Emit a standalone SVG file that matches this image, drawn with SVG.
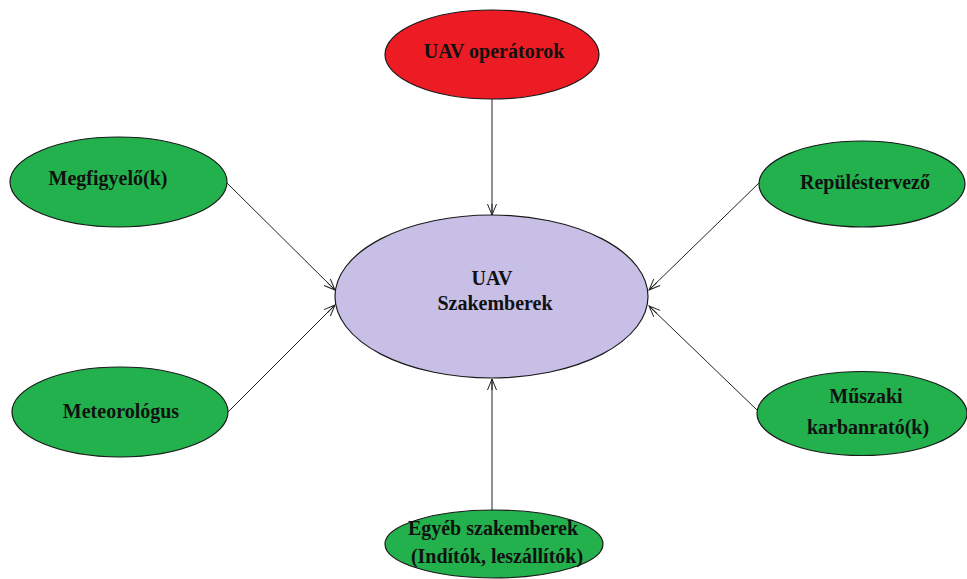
<svg xmlns="http://www.w3.org/2000/svg" width="967" height="579" viewBox="0 0 967 579">
  <style>
    .node { stroke: #1a1a1a; stroke-width: 1.2; }
    .red { fill: #ED1C24; }
    .green { fill: #22B14C; }
    .lav { fill: #C8BFE7; }
    .lbl { font-family: "Liberation Serif", "Times New Roman", serif; font-weight: bold; font-size: 20px; fill: #111; text-anchor: middle; }
    .edge { stroke: #222; stroke-width: 1; fill: none; marker-end: url(#arrow); }
  </style>
  <defs>
    <marker id="arrow" markerUnits="userSpaceOnUse" markerWidth="14" markerHeight="12" viewBox="-12 -6 14 12" refX="0" refY="0" orient="auto">
      <path d="M-11,-4.5 L0,0 L-11,4.5 M-11,0 L0,0" stroke="#222" stroke-width="1" fill="none"/>
    </marker>
  </defs>
  <rect width="967" height="579" fill="#ffffff"/>

  <g id="connectors">
    <line class="edge" x1="492" y1="99" x2="492" y2="215"/>
    <line class="edge" x1="227" y1="183" x2="335" y2="290"/>
    <line class="edge" x1="228" y1="412" x2="335" y2="305"/>
    <line class="edge" x1="759" y1="183" x2="649" y2="290"/>
    <line class="edge" x1="757" y1="410" x2="649" y2="306"/>
    <line class="edge" x1="492" y1="510" x2="492" y2="379"/>
  </g>

  <g id="uav-operatorok">
    <ellipse class="node red" cx="492" cy="54.5" rx="107" ry="44.5"/>
    <text class="lbl" x="494" y="58">UAV operátorok</text>
  </g>

  <g id="uav-szakemberek">
    <ellipse class="node lav" cx="491.5" cy="296.5" rx="156.5" ry="81.5"/>
    <text class="lbl" x="492" y="285">UAV</text>
    <text class="lbl" x="495" y="310">Szakemberek</text>
  </g>

  <g id="megfigyelo">
    <ellipse class="node green" cx="118.5" cy="182" rx="108.5" ry="45"/>
    <text class="lbl" x="108" y="185">Megfigyelő(k)</text>
  </g>

  <g id="meteorologus">
    <ellipse class="node green" cx="120" cy="412" rx="108" ry="45"/>
    <text class="lbl" x="121" y="418">Meteorológus</text>
  </g>

  <g id="repulestervezo">
    <ellipse class="node green" cx="862" cy="184" rx="103" ry="43"/>
    <text class="lbl" x="865" y="189">Repüléstervező</text>
  </g>

  <g id="muszaki-karbantarto">
    <ellipse class="node green" cx="862" cy="413.5" rx="105" ry="42"/>
    <text class="lbl" x="866" y="403">Műszaki</text>
    <text class="lbl" x="868" y="434">karbanrató(k)</text>
  </g>

  <g id="egyeb-szakemberek">
    <ellipse class="node green" cx="494" cy="544" rx="109" ry="34"/>
    <text class="lbl" x="493" y="535">Egyéb szakemberek</text>
    <text class="lbl" x="497" y="563">(Indítók, leszállítók)</text>
  </g>
</svg>
